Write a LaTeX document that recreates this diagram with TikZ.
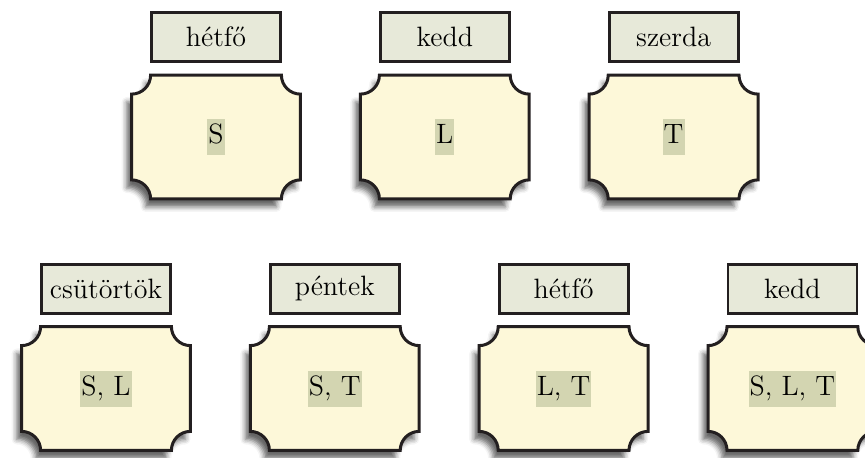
\documentclass[tikz,border=0pt]{standalone}
\usetikzlibrary{positioning, shadows.blur, backgrounds}
\definecolor{cardfill}{HTML}{FDF8D9}
\definecolor{dayfill}{HTML}{E7E9D9}
\definecolor{setbg}{HTML}{D3D5B1}
\definecolor{framecol}{HTML}{231F20}
\newcommand{\hilite}[1]{{\setlength{\fboxsep}{0.5pt}\colorbox{setbg}{\strut #1}}}

\begin{document}
\begin{tikzpicture}[
    font=\fontsize{14}{17}\selectfont,
    node distance=6pt and 30pt,
    card/.style={minimum width=84pt, minimum height=61.5pt, inner sep=0pt},
    day/.style={draw=framecol, fill=dayfill, line width=1.4pt,
                minimum width=64.5pt, minimum height=24.5pt, inner sep=0pt},
    frame/.style={draw=framecol, fill=cardfill, line width=1.5pt,
                  blur shadow={shadow xshift=-2.5pt, shadow yshift=-4pt,
                               shadow blur radius=2.5pt, shadow opacity=60}}
]
\useasboundingbox (0,0) rectangle (432.5pt,228.5pt);
% --- Kartyak, felso sor ---
\node[card] (c1) at (108pt,160pt) {\hilite{S}};
\node[card, right=of c1] (c2) {\hilite{L}};
\node[card, right=of c2] (c3) {\hilite{T}};
% --- Kartyak, also sor ---
\node[card] (c4) at (53pt,34.25pt) {\hilite{S, L}};
\node[card, right=of c4] (c5) {\hilite{S, T}};
\node[card, right=of c5] (c6) {\hilite{L, T}};
\node[card, right=of c6] (c7) {\hilite{S, L, T}};
% --- Napok ---
\node[day, above=of c1] (d1) {hétfő};
\node[day, above=of c2] (d2) {kedd};
\node[day, above=of c3] (d3) {szerda};
\node[day, above=of c4] (d4) {csütörtök};
\node[day, above=of c5] (d5) {péntek};
\node[day, above=of c6] (d6) {hétfő};
\node[day, above=of c7] (d7) {kedd};
% --- Keretek ---
\begin{scope}[on background layer]
\foreach \c in {c1,c2,c3,c4,c5,c6,c7}
    \draw[frame] ([xshift=9.5pt]\c.north west) -- ([xshift=-9.5pt]\c.north east)
        arc[start angle=180, end angle=270, radius=9.5pt]
        -- ([yshift=9.5pt]\c.south east)
        arc[start angle=90, end angle=180, radius=9.5pt]
        -- ([xshift=9.5pt]\c.south west)
        arc[start angle=0, end angle=90, radius=9.5pt]
        -- ([yshift=-9.5pt]\c.north west)
        arc[start angle=270, end angle=360, radius=9.5pt] -- cycle;
\end{scope}
\end{tikzpicture}
\end{document}
